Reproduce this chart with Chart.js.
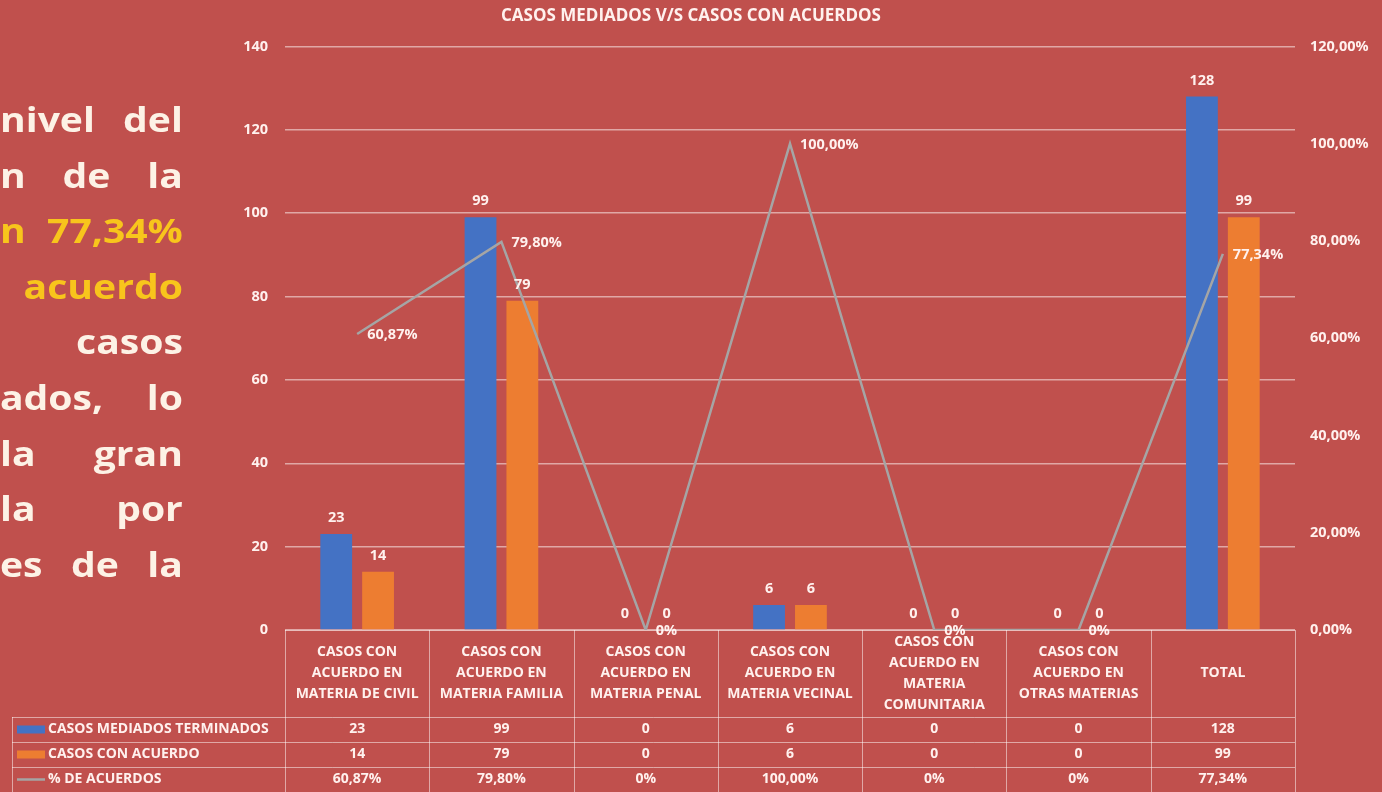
<!DOCTYPE html>
<html lang="es">
<head>
<meta charset="utf-8">
<title>Casos mediados v/s casos con acuerdos</title>
<script src="https://cdn.jsdelivr.net/npm/chart.js@4.4.1/dist/chart.umd.min.js"></script>
<style>
  html, body { margin: 0; padding: 0; background: #C0504D; overflow: hidden; }
  #wrap { position: relative; width: 1382px; height: 792px; }
  #chart { position: absolute; left: 0; top: 0; }
  #texto {
    position: absolute; left: 0; top: 92px; width: 159px;
    transform: scaleX(1.15); transform-origin: 0 0;
    font-family: "Open Sans", sans-serif; font-weight: 700; font-size: 34px;
    color: #FDF2E6;
  }
  #texto .l { height: 55.6px; line-height: 55.6px; display: flex; justify-content: space-between; white-space: nowrap; }
  #texto .r { justify-content: flex-end; }
  #texto .am { color: #F8C51C; }
</style>
</head>
<body>
<div id="wrap">
  <canvas id="chart" width="1382" height="792"></canvas>
  <div id="texto">
    <div class="l"><span>nivel</span><span>del</span></div>
    <div class="l"><span>n</span><span>de</span><span>la</span></div>
    <div class="l am"><span>n</span><span>77,34%</span></div>
    <div class="l r am"><span>acuerdo</span></div>
    <div class="l r"><span>casos</span></div>
    <div class="l"><span>ados,</span><span>lo</span></div>
    <div class="l"><span>la</span><span>gran</span></div>
    <div class="l"><span>la</span><span>por</span></div>
    <div class="l"><span>es</span><span>de</span><span>la</span></div>
  </div>
</div>
<script>
  "use strict";

  // datos
  const categorias = [
    ["CASOS CON", "ACUERDO EN", "MATERIA DE CIVIL"],
    ["CASOS CON", "ACUERDO EN", "MATERIA FAMILIA"],
    ["CASOS CON", "ACUERDO EN", "MATERIA PENAL"],
    ["CASOS CON", "ACUERDO EN", "MATERIA VECINAL"],
    ["CASOS CON", "ACUERDO EN", "MATERIA", "COMUNITARIA"],
    ["CASOS CON", "ACUERDO EN", "OTRAS MATERIAS"],
    ["TOTAL"],
  ];
  const casosMediados = [23, 99, 0, 6, 0, 0, 128];
  const casosConAcuerdo = [14, 79, 0, 6, 0, 0, 99];
  const pctAcuerdos = [0.6087, 0.798, 0, 1, 0, 0, 0.7734];
  const ticksIzq = [0, 20, 40, 60, 80, 100, 120, 140];

  const AZUL = "#4472C4";
  const NARANJA = "#ED7D31";
  const GRIS = "#A5A5A5";
  const BLANCO = "#FFF1EE";
  const LINEA = "rgba(255,255,255,0.5)";
  const FUENTE = "'Open Sans', sans-serif";

  function fmtPct(v) {
    if (v === 0) return "0%";
    return (v * 100).toFixed(2).replace(".", ",") + "%";
  }

  // etiquetas de valores sobre barras y línea
  const etiquetas = {
    id: "etiquetas",
    afterDatasetsDraw(chart) {
      const ctx = chart.ctx;
      ctx.save();
      ctx.fillStyle = BLANCO;
      ctx.font = "bold 14.5px " + FUENTE;
      chart.data.datasets.forEach((ds, i) => {
        const meta = chart.getDatasetMeta(i);
        meta.data.forEach((el, j) => {
          ctx.textBaseline = "middle";
          if (ds.type === "line") {
            ctx.textAlign = "left";
            ctx.fillText(fmtPct(ds.data[j]), el.x + 10, el.y + 1);
          } else {
            ctx.textAlign = "center";
            ctx.fillText(String(ds.data[j]), el.x, el.y - 16);
          }
        });
      });
      ctx.restore();
    },
  };

  // tabla de datos bajo el gráfico
  const tablaDatos = {
    id: "tablaDatos",
    afterDraw(chart) {
      const ctx = chart.ctx;
      const x = chart.scales.x;
      const area = chart.chartArea;
      const n = categorias.length;
      const ancho = (area.right - area.left) / n;
      const top = area.bottom;
      const hHead = 87;
      const hRow = 25;
      const filas = [
        { label: "CASOS MEDIADOS TERMINADOS", data: casosMediados.map(String), color: AZUL, tipo: "bar" },
        { label: "CASOS CON ACUERDO", data: casosConAcuerdo.map(String), color: NARANJA, tipo: "bar" },
        { label: "% DE ACUERDOS", data: pctAcuerdos.map(fmtPct), color: GRIS, tipo: "line" },
      ];
      const izq = 12;
      const fondo = top + hHead + hRow * filas.length;

      ctx.save();
      ctx.strokeStyle = LINEA;
      ctx.lineWidth = 1;
      ctx.beginPath();
      ctx.moveTo(area.left, top + 0.5);
      ctx.lineTo(area.right, top + 0.5);
      for (let r = 0; r <= filas.length; r++) {
        const y = Math.round(top + hHead + r * hRow) + 0.5;
        ctx.moveTo(izq, y);
        ctx.lineTo(area.right, y);
      }
      for (let i = 0; i <= n; i++) {
        const xx = Math.round(area.left + i * ancho) + 0.5;
        ctx.moveTo(xx, top);
        ctx.lineTo(xx, fondo);
      }
      ctx.moveTo(izq + 0.5, top + hHead);
      ctx.lineTo(izq + 0.5, fondo);
      ctx.stroke();

      ctx.fillStyle = BLANCO;
      ctx.font = "bold 14px " + FUENTE;
      ctx.textAlign = "center";
      ctx.textBaseline = "middle";
      categorias.forEach((lineas, i) => {
        const cx = x.getPixelForValue(i);
        const cy = top + hHead / 2;
        const lh = 21;
        lineas.forEach((t, k) => {
          ctx.fillText(t, cx, cy + (k - (lineas.length - 1) / 2) * lh);
        });
      });

      filas.forEach((f, r) => {
        const cy = top + hHead + r * hRow + hRow / 2;
        if (f.tipo === "bar") {
          ctx.fillStyle = f.color;
          ctx.fillRect(izq + 5, cy - 4, 28, 8);
        } else {
          ctx.strokeStyle = f.color;
          ctx.lineWidth = 2.5;
          ctx.beginPath();
          ctx.moveTo(izq + 5, cy);
          ctx.lineTo(izq + 33, cy);
          ctx.stroke();
        }
        ctx.fillStyle = BLANCO;
        ctx.textAlign = "left";
        ctx.fillText(f.label, izq + 36, cy);
        ctx.textAlign = "center";
        f.data.forEach((v, i) => {
          ctx.fillText(v, x.getPixelForValue(i), cy);
        });
      });
      ctx.restore();
    },
  };

  new Chart(document.getElementById("chart"), {
    data: {
      labels: categorias,
      datasets: [
        {
          type: "line",
          label: "% DE ACUERDOS",
          data: pctAcuerdos,
          yAxisID: "y1",
          borderColor: GRIS,
          borderWidth: 2.5,
          pointRadius: 0,
          tension: 0,
          fill: false,
          order: 0,
        },
        {
          type: "bar",
          label: "CASOS MEDIADOS TERMINADOS",
          data: casosMediados,
          backgroundColor: AZUL,
          categoryPercentage: 0.58,
          barPercentage: 0.76,
          order: 1,
        },
        {
          type: "bar",
          label: "CASOS CON ACUERDO",
          data: casosConAcuerdo,
          backgroundColor: NARANJA,
          categoryPercentage: 0.58,
          barPercentage: 0.76,
          order: 1,
        },
      ],
    },
    options: {
      responsive: false,
      devicePixelRatio: 1,
      animation: false,
      layout: { padding: { left: 0, right: 0, top: 0, bottom: 162 } },
      plugins: {
        legend: { display: false },
        tooltip: { enabled: false },
        title: {
          display: true,
          text: "CASOS MEDIADOS V/S CASOS CON ACUERDOS",
          color: BLANCO,
          font: { family: FUENTE, size: 17, weight: "bold" },
          padding: { top: 6, bottom: 20 },
        },
      },
      scales: {
        x: { display: false },
        y: {
          position: "left",
          min: 0,
          max: 140,
          afterBuildTicks(scale) {
            scale.ticks = ticksIzq.map((v) => ({ value: v }));
          },
          afterFit(scale) { scale.width = 285; },
          border: { display: false },
          grid: { color: LINEA, lineWidth: 1.5, drawTicks: false },
          ticks: { color: BLANCO, padding: 17, font: { family: FUENTE, size: 14.5, weight: "bold" } },
        },
        y1: {
          position: "right",
          min: 0,
          max: 1.2,
          afterFit(scale) { scale.width = 87; },
          border: { display: false },
          grid: { display: false, drawTicks: false },
          ticks: {
            stepSize: 0.2,
            color: BLANCO,
            padding: 15,
            font: { family: FUENTE, size: 14.5, weight: "bold" },
            callback: (v) => (v * 100).toFixed(2).replace(".", ",") + "%",
          },
        },
      },
    },
    plugins: [etiquetas, tablaDatos],
  });
</script>
</body>
</html>
